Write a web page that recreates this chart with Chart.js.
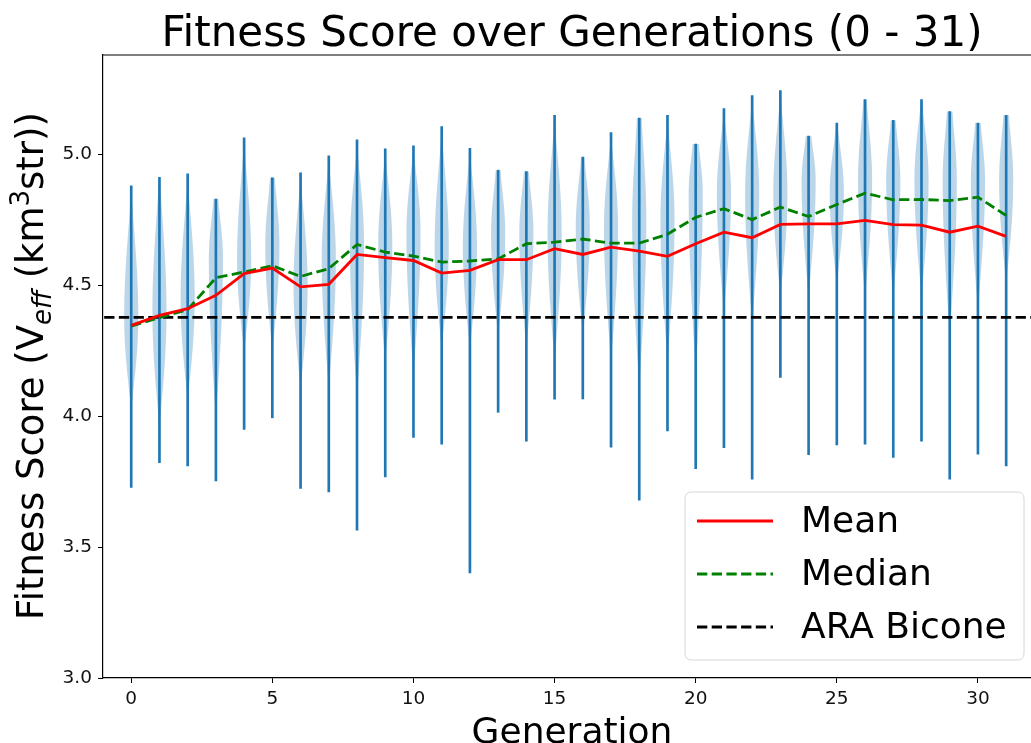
<!DOCTYPE html>
<html>
<head>
<meta charset="utf-8">
<script src="https://cdn.jsdelivr.net/npm/chart.js@4.4.1/dist/chart.umd.min.js"></script>
<style>
  body { margin: 0; background: #fff; }
  canvas { display: block; }
</style>
</head>
<body>
<canvas id="chart" width="1031" height="743"></canvas>
<script>
// generations 0 - 31
const generations = [0,1,2,3,4,5,6,7,8,9,10,11,12,13,14,15,16,17,18,19,20,21,22,23,24,25,26,27,28,29,30,31];

// extrema of each generation (the thin blue bars)
const fitnessMax = [4.88,4.913,4.926,4.83,5.064,4.911,4.93,4.995,5.056,5.022,5.033,5.107,5.023,4.94,4.935,5.15,4.99,5.084,5.139,5.15,5.04,5.175,5.225,5.244,5.07,5.12,5.21,5.13,5.21,5.164,5.12,5.15];
const fitnessMin = [3.728,3.823,3.81,3.753,3.95,3.994,3.724,3.711,3.565,3.768,3.919,3.893,3.401,4.015,3.905,4.065,4.066,3.882,3.679,3.944,3.80,3.88,3.76,4.148,3.853,3.89,3.893,3.843,3.905,3.76,3.855,3.81];

const meanFitness = [4.347,4.385,4.411,4.462,4.545,4.566,4.494,4.504,4.618,4.606,4.595,4.547,4.557,4.598,4.598,4.64,4.618,4.646,4.631,4.611,4.659,4.703,4.682,4.733,4.735,4.735,4.748,4.732,4.73,4.703,4.726,4.687];
const medianFitness = [4.344,4.377,4.407,4.529,4.551,4.575,4.534,4.564,4.656,4.627,4.612,4.589,4.593,4.601,4.659,4.665,4.677,4.661,4.661,4.695,4.76,4.793,4.751,4.799,4.763,4.809,4.852,4.827,4.828,4.824,4.837,4.767];
const araBicone = 4.378;

// violin shape: widest value, where the fill dies out, width left at the top
const violinMode = [4.38,4.4,4.45,4.6,4.6,4.65,4.5,4.6,4.65,4.65,4.7,4.65,4.65,4.7,4.7,4.7,4.72,4.72,4.75,4.75,4.85,4.85,4.85,4.85,4.9,4.85,4.9,4.9,4.9,4.9,4.9,4.9];
const violinLow = [4.02,3.95,4.05,3.98,4.24,4.24,4.1,4.1,4.07,4.2,4.15,4.25,4.25,4.3,4.25,4.2,4.3,4.2,4.1,4.2,4.15,4.39,4.35,4.45,4.45,4.5,4.45,4.45,4.45,4.3,4.4,4.5];
const violinTop = [0,0.1,0,0.35,0,0.35,0,0,0,0,0,0,0,0.35,0.35,0,0.25,0,0.35,0,0.45,0,0,0,0.4,0.1,0.25,0.35,0.1,0.4,0.4,0.4];

const xTicks = [0,5,10,15,20,25,30];
const yTicks = [3.0,3.5,4.0,4.5,5.0];

const FONT = "'DejaVu Sans', 'Liberation Sans', sans-serif";
const BLUE = '#1f77b4';

// violin bodies, drawn under the datasets
const violinPlugin = {
  id: 'violins',
  beforeDatasetsDraw(chart) {
    const { ctx, chartArea, scales } = chart;
    const xs = scales.x, ys = scales.y;
    const halfW = 0.25; // in generation units
    ctx.save();
    ctx.beginPath();
    ctx.rect(chartArea.left, chartArea.top, chartArea.right - chartArea.left, chartArea.bottom - chartArea.top);
    ctx.clip();
    ctx.fillStyle = 'rgba(31,119,180,0.3)';
    generations.forEach((g, i) => {
      const top = fitnessMax[i], mode = violinMode[i], low = violinLow[i], tf = violinTop[i];
      const prof = (v) => {
        if (v >= mode) {
          const t = (top - v) / (top - mode);
          return tf + (1 - tf) * Math.pow(Math.sin(Math.min(1, t) * Math.PI / 2), 1.3);
        }
        const t = Math.min(1, (mode - v) / (mode - low));
        return Math.pow(Math.cos(t * Math.PI / 2), 1.1);
      };
      const n = 60;
      const right = [], left = [];
      for (let k = 0; k <= n; k++) {
        const v = low + (top - low) * k / n;
        const w = prof(v) * halfW;
        right.push([xs.getPixelForValue(g + w), ys.getPixelForValue(v)]);
        left.push([xs.getPixelForValue(g - w), ys.getPixelForValue(v)]);
      }
      ctx.beginPath();
      right.forEach((p, k) => k ? ctx.lineTo(p[0], p[1]) : ctx.moveTo(p[0], p[1]));
      for (let k = left.length - 1; k >= 0; k--) ctx.lineTo(left[k][0], left[k][1]);
      ctx.closePath();
      ctx.fill();
    });
    ctx.restore();
  }
};

// title, y label with sub/superscript, top spine and legend
const decorPlugin = {
  id: 'decor',
  afterDraw(chart) {
    const { ctx, chartArea } = chart;
    ctx.save();
    // top spine
    ctx.strokeStyle = '#000';
    ctx.lineWidth = 1.2;
    ctx.beginPath();
    ctx.moveTo(chartArea.left, chartArea.top);
    ctx.lineTo(chartArea.right, chartArea.top);
    ctx.stroke();

    ctx.fillStyle = '#000';
    ctx.textAlign = 'center';
    ctx.textBaseline = 'alphabetic';
    ctx.font = `42px ${FONT}`;
    ctx.fillText('Fitness Score over Generations (0 - 31)', 572, 46);

    ctx.font = `36px ${FONT}`;
    ctx.fillText('Generation', 572, 743);

    // y label
    const parts = [
      { t: 'Fitness Score (V', f: `37px ${FONT}`, dy: 0 },
      { t: 'eff', f: `italic 26px ${FONT}`, dy: 8 },
      { t: ' (km', f: `37px ${FONT}`, dy: 0 },
      { t: '3', f: `26px ${FONT}`, dy: -14 },
      { t: 'str))', f: `37px ${FONT}`, dy: 0 }
    ];
    let total = 0;
    parts.forEach(p => { ctx.font = p.f; p.w = ctx.measureText(p.t).width; total += p.w; });
    ctx.translate(43, 366);
    ctx.rotate(-Math.PI / 2);
    ctx.textAlign = 'left';
    let xx = -total / 2;
    parts.forEach(p => { ctx.font = p.f; ctx.fillText(p.t, xx, p.dy); xx += p.w; });
    ctx.setTransform(1, 0, 0, 1, 0, 0);

    // legend
    const bx = 685, by = 492, bw = 339, bh = 168, r = 6;
    ctx.beginPath();
    ctx.moveTo(bx + r, by);
    ctx.arcTo(bx + bw, by, bx + bw, by + bh, r);
    ctx.arcTo(bx + bw, by + bh, bx, by + bh, r);
    ctx.arcTo(bx, by + bh, bx, by, r);
    ctx.arcTo(bx, by, bx + bw, by, r);
    ctx.closePath();
    ctx.fillStyle = 'rgba(255,255,255,0.8)';
    ctx.fill();
    ctx.strokeStyle = '#d6d6d6';
    ctx.lineWidth = 1;
    ctx.stroke();

    const items = [
      { label: 'Mean', color: '#ff0000', dash: [] },
      { label: 'Median', color: '#008000', dash: [10.3, 4.4] },
      { label: 'ARA Bicone', color: '#000000', dash: [10.3, 4.4] }
    ];
    ctx.font = `36px ${FONT}`;
    ctx.textBaseline = 'middle';
    items.forEach((it, k) => {
      const yy = 521 + k * 53;
      ctx.strokeStyle = it.color;
      ctx.lineWidth = 2.8;
      ctx.setLineDash(it.dash);
      ctx.beginPath();
      ctx.moveTo(697, yy);
      ctx.lineTo(773, yy);
      ctx.stroke();
      ctx.setLineDash([]);
      ctx.fillStyle = '#000';
      ctx.fillText(it.label, 801, yy + 2);
    });
    ctx.restore();
  }
};

const ctx = document.getElementById('chart').getContext('2d');
new Chart(ctx, {
  type: 'line',
  data: {
    datasets: [
      {
        label: 'Mean',
        data: generations.map((g, i) => ({ x: g, y: meanFitness[i] })),
        borderColor: '#ff0000',
        borderWidth: 2.8,
        pointRadius: 0,
        tension: 0,
        order: 1
      },
      {
        label: 'Median',
        data: generations.map((g, i) => ({ x: g, y: medianFitness[i] })),
        borderColor: '#008000',
        borderWidth: 2.8,
        borderDash: [10.3, 4.4],
        pointRadius: 0,
        tension: 0,
        order: 2
      },
      {
        label: 'ARA Bicone',
        data: [{ x: -2, y: araBicone }, { x: 34, y: araBicone }],
        borderColor: '#000000',
        borderWidth: 2.8,
        borderDash: [10.3, 4.4],
        pointRadius: 0,
        order: 3
      },
      {
        type: 'bar',
        label: 'range',
        data: generations.map((g, i) => ({ x: g, y: [fitnessMin[i], fitnessMax[i]] })),
        backgroundColor: BLUE,
        borderWidth: 0,
        barThickness: 2,
        order: 10
      }
    ]
  },
  options: {
    responsive: false,
    animation: false,
    events: [],
    layout: { padding: { top: 55, left: 0, right: 0, bottom: 0 } },
    plugins: {
      legend: { display: false },
      tooltip: { enabled: false },
      title: { display: false }
    },
    scales: {
      x: {
        type: 'linear',
        min: -1,
        max: 31.88,
        offset: false,
        afterFit(s) { s.height = 65; },
        afterBuildTicks(s) { s.ticks = xTicks.map(v => ({ value: v })); },
        ticks: { color: '#111', font: { family: FONT, size: 18.5 }, padding: 5, maxRotation: 0 },
        grid: { display: true, drawOnChartArea: false, drawTicks: true, tickLength: 5, tickColor: '#000', offset: false },
        border: { display: true, color: '#000', width: 1.2 }
      },
      y: {
        min: 3.0,
        max: 5.38,
        afterFit(s) { s.width = 103; },
        afterBuildTicks(s) { s.ticks = yTicks.map(v => ({ value: v })); },
        ticks: { color: '#111', font: { family: FONT, size: 18.5 }, padding: 6, callback: v => v.toFixed(1) },
        grid: { display: true, drawOnChartArea: false, drawTicks: true, tickLength: 5, tickColor: '#000' },
        border: { display: true, color: '#000', width: 1.2 }
      }
    }
  },
  plugins: [violinPlugin, decorPlugin]
});
</script>
</body>
</html>
